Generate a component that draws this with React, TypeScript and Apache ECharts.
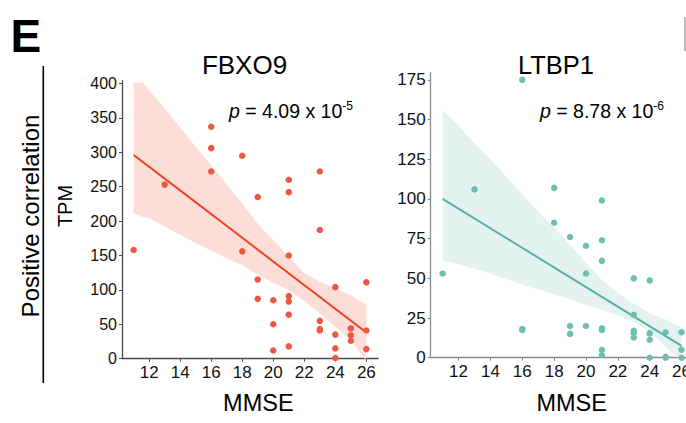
import React, { useEffect, useRef } from "react";
import * as echarts from "echarts";

const FONT = '"Liberation Sans", Arial, Helvetica, sans-serif';

// FBXO9 (left panel)
const fbxo9MMSE = [11, 13, 16, 16, 16, 18, 18, 19, 19, 19, 20, 20, 20, 21, 21, 21, 21, 21, 21, 21, 23, 23, 23, 23, 23, 24, 24, 24, 24, 25, 25, 25, 26, 26, 26];
const fbxo9TPM = [158, 253, 337, 306, 272, 295, 156, 235, 115, 87, 85, 50, 12, 260, 242, 150, 91, 83, 64, 18, 272, 187, 55, 43, 41, 104, 35, 15, 1, 44, 34, 26, 111, 41, 14];

// LTBP1 (right panel)
const ltbp1MMSE = [11, 13, 16, 16, 16, 18, 18, 19, 19, 19, 20, 20, 20, 21, 21, 21, 21, 21, 21, 21, 23, 23, 23, 23, 23, 24, 24, 24, 24, 25, 25, 25, 26, 26, 26];
const ltbp1TPM = [53, 106, 175, 18, 17.5, 107, 85, 76, 20, 15, 70.5, 53, 20, 99, 74, 61, 18.5, 17.5, 5, 1.7, 50, 27, 17, 15.5, 12.7, 48.7, 15.3, 11.3, 0, 16, 0.6, 0, 16, 5, 0];

// Confidence bands
const bandMMSE = [11, 11.6, 12, 13, 14, 15, 16, 17, 18, 19, 20, 21, 22, 23, 24, 25, 26];
const fbxo9Upper = [401, 401, 390, 364, 336, 308, 281, 253, 226, 196, 172, 148, 124, 112, 102, 92, 78];
const fbxo9Lower = [211, 206, 204, 192, 180, 168, 157, 146, 136, 122, 110, 100, 84, 66, 46, 27, -3];
const ltbp1Upper = [156, 150, 146, 135, 125, 114, 103, 92, 82, 71, 60, 49, 41, 34, 28, 24, 19];
const ltbp1Lower = [61, 60, 59, 56, 53, 49.5, 46, 43, 40, 37, 33, 30, 26.5, 22.5, 16, 7, -2];

// Fitted lines
const fitMMSE = [11, 26];
const fbxo9Fit = [296, 38];
const ltbp1Fit = [100, 7.5];

// Ticks
const xTicks = [12, 14, 16, 18, 20, 22, 24, 26];
const fbxo9YTicks = [0, 50, 100, 150, 200, 250, 300, 350, 400];
const ltbp1YTicks = [0, 25, 50, 75, 100, 125, 150, 175];

const RED_DOT = "#F05641";
const RED_LINE = "#F0401F";
const RED_BAND = "#FCDDD7";
const TEAL_DOT = "#6CC0B3";
const TEAL_LINE = "#58B2A4";
const TEAL_BAND = "#E4F2F0";

function band(idx: number, lower: number[], upper: number[], color: string) {
  return {
    type: "custom",
    xAxisIndex: idx,
    yAxisIndex: idx,
    silent: true,
    clip: true,
    z: 1,
    data: [[bandMMSE[0], lower[0], upper[0]]],
    encode: { x: 0, y: [1, 2] },
    renderItem: (params: any, api: any) => {
      const top = bandMMSE.map((x, i) => api.coord([x, upper[i]]));
      const bottom = bandMMSE.map((x, i) => api.coord([x, lower[i]])).reverse();
      const cs = params.coordSys;
      return {
        type: "polygon",
        shape: { points: top.concat(bottom) },
        style: { fill: color, stroke: "none" },
        clipPath: {
          type: "rect",
          shape: { x: cs.x, y: cs.y, width: cs.width, height: cs.height },
        },
      };
    },
  };
}

function xAxis(idx: number, color: string) {
  return {
    type: "value",
    gridIndex: idx,
    min: 10.25,
    max: 26.75,
    axisLine: { show: true, lineStyle: { color, width: 1.3 } },
    axisTick: { show: true, length: 3, customValues: xTicks, lineStyle: { color } },
    axisLabel: { customValues: xTicks, fontSize: 17, color: "#111", fontFamily: FONT, margin: 5 },
    splitLine: { show: false },
  };
}

function yAxis(idx: number, max: number, ticks: number[], color: string, fs: number) {
  return {
    type: "value",
    gridIndex: idx,
    min: 0,
    max,
    axisLine: { show: true, lineStyle: { color, width: 1.3 } },
    axisTick: { show: true, length: 3, customValues: ticks, lineStyle: { color } },
    axisLabel: { customValues: ticks, fontSize: fs, color: "#111", fontFamily: FONT, margin: 5 },
    splitLine: { show: false },
  };
}

function txt(text: string, x: number, y: number, fontSize: number, extra: any = {}, rotation = 0) {
  return {
    type: "text",
    x,
    y,
    rotation,
    style: {
      text,
      x: 0,
      y: 0,
      fontSize,
      fontFamily: FONT,
      fill: "#000",
      align: "center",
      verticalAlign: "middle",
      textAlign: "center",
      textVerticalAlign: "middle",
      ...extra,
    },
  };
}

function pText(value: string, exp: string, x: number, y: number) {
  return {
    type: "text",
    x,
    y,
    style: {
      text: `{p|p} = ${value} x 10{s|${exp}}`,
      x: 0,
      y: 0,
      fontSize: 19.5,
      fontFamily: FONT,
      fill: "#000",
      align: "left",
      verticalAlign: "middle",
      textAlign: "left",
      textVerticalAlign: "middle",
      rich: {
        p: { fontStyle: "italic", fontSize: 19.5, fontFamily: FONT, lineHeight: 22 },
        s: { fontSize: 12, fontFamily: FONT, verticalAlign: "top", lineHeight: 12 },
      },
    },
  };
}

export default function App() {
  const ref = useRef<HTMLDivElement>(null);
  useEffect(() => {
    if (!ref.current) return;
    const chart = echarts.init(ref.current, null, { renderer: "svg" });
    chart.setOption({
      animation: false,
      backgroundColor: "#fff",
      grid: [
        { left: 122, top: 80.7, width: 256, height: 278, outerBoundsMode: "none", containLabel: false },
        { left: 430.7, top: 72.7, width: 262.8, height: 285, outerBoundsMode: "none", containLabel: false },
      ],
      xAxis: [xAxis(0, "#4a4a4a"), xAxis(1, "#8a8a8a")],
      yAxis: [
        yAxis(0, 404, fbxo9YTicks, "#4a4a4a", 16),
        yAxis(1, 179.5, ltbp1YTicks, "#8a8a8a", 17),
      ],
      series: [
        band(0, fbxo9Lower, fbxo9Upper, RED_BAND),
        band(1, ltbp1Lower, ltbp1Upper, TEAL_BAND),
        {
          type: "line",
          xAxisIndex: 0,
          yAxisIndex: 0,
          symbol: "none",
          lineStyle: { color: RED_LINE, width: 2 },
          data: fitMMSE.map((x, i) => [x, fbxo9Fit[i]]),
          z: 2,
        },
        {
          type: "line",
          xAxisIndex: 1,
          yAxisIndex: 1,
          symbol: "none",
          lineStyle: { color: TEAL_LINE, width: 2 },
          data: fitMMSE.map((x, i) => [x, ltbp1Fit[i]]),
          z: 2,
        },
        {
          type: "scatter",
          xAxisIndex: 0,
          yAxisIndex: 0,
          symbolSize: 6.5,
          itemStyle: { color: RED_DOT, opacity: 1 },
          data: fbxo9MMSE.map((x, i) => [x, fbxo9TPM[i]]),
          z: 3,
        },
        {
          type: "scatter",
          xAxisIndex: 1,
          yAxisIndex: 1,
          symbolSize: 6.5,
          itemStyle: { color: TEAL_DOT, opacity: 1 },
          data: ltbp1MMSE.map((x, i) => [x, ltbp1TPM[i]]),
          z: 3,
        },
      ],
      graphic: [
        txt("E", 10.5, 35.8, 46, { fontWeight: "bold", align: "left", textAlign: "left" }),
        {
          type: "line",
          shape: { x1: 43.3, y1: 66, x2: 43.3, y2: 383 },
          style: { stroke: "#000", lineWidth: 1.6 },
        },
        {
          type: "line",
          shape: { x1: 685, y1: 17, x2: 685, y2: 51 },
          style: { stroke: "#bbb", lineWidth: 2 },
        },
        txt("Positive correlation", 30, 216, 24, {}, Math.PI / 2),
        txt("TPM", 65, 206, 20, {}, Math.PI / 2),
        txt("FBXO9", 244.5, 65.3, 26),
        txt("LTBP1", 556, 64.5, 25.5),
        txt("MMSE", 258.3, 402.9, 23.5),
        txt("MMSE", 571.7, 402.9, 23.5),
        pText("4.09", "-5", 229, 111),
        pText("8.78", "-6", 540, 111),
      ],
    });
    return () => chart.dispose();
  }, []);
  return (
    <div
      ref={ref}
      style={{ position: "fixed", left: 0, top: 0, width: 686, height: 423, background: "#fff" }}
    />
  );
}
